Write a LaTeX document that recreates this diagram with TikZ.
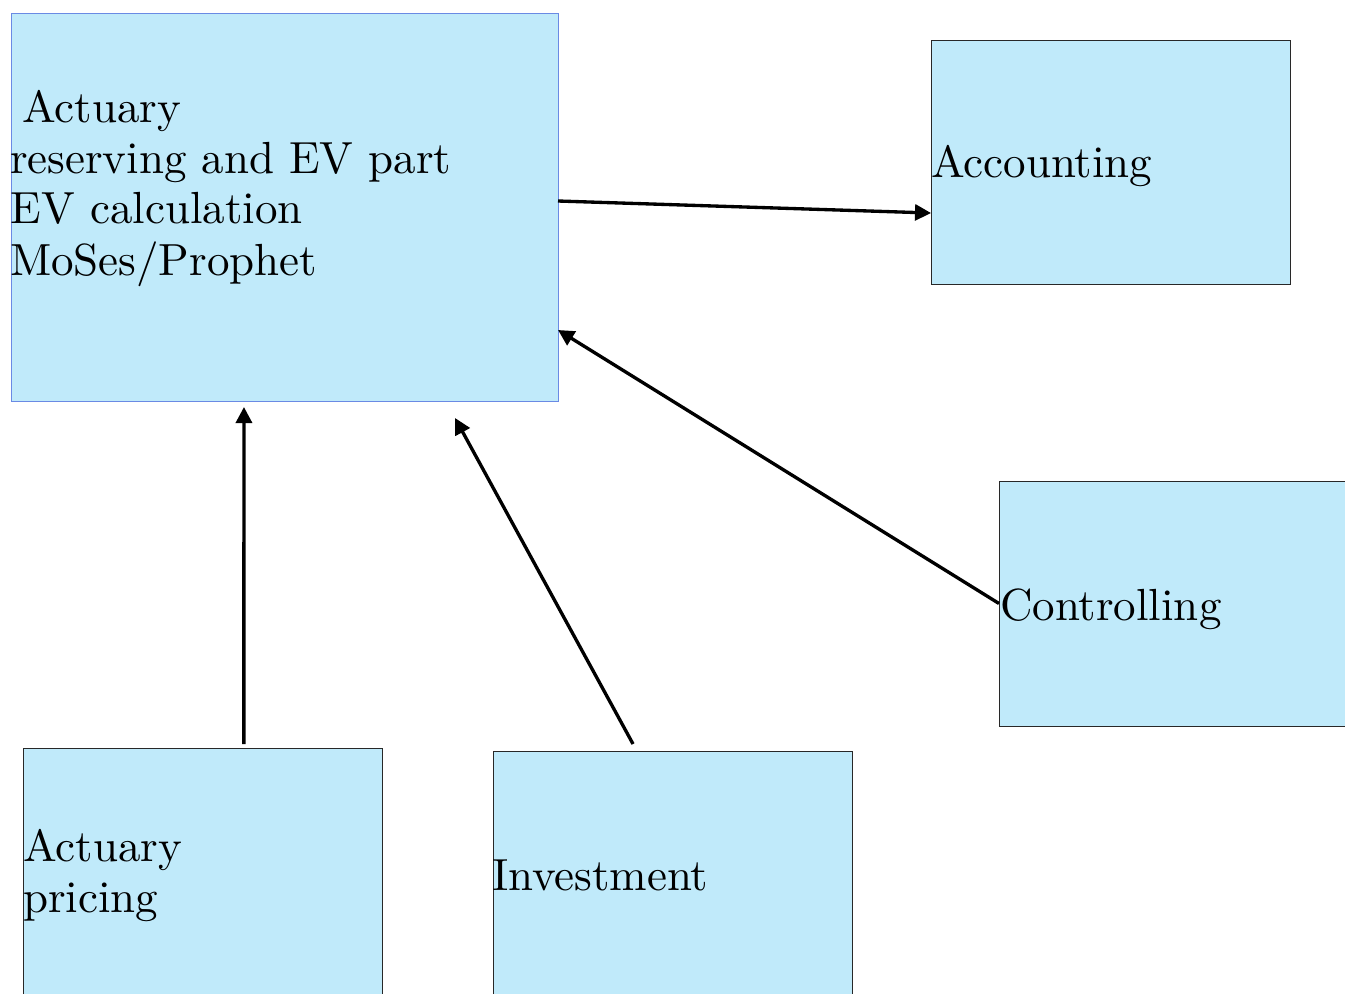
\documentclass[tikz,border=0pt]{standalone}
\usepackage{fontspec}
\setmainfont{lmroman10-regular.otf}
\usetikzlibrary{arrows.meta}
\definecolor{boxfill}{RGB}{192,234,250}
\definecolor{mainedge}{RGB}{106,138,228}
\definecolor{boxedge}{RGB}{40,40,40}
\begin{document}
\begin{tikzpicture}[x=0.75pt,y=-0.75pt,
  box/.style={draw=boxedge,line width=0.75pt,fill=boxfill,inner sep=0pt,outer sep=0pt,anchor=north west},
  lbl/.style={anchor=base west,inner sep=0pt,outer sep=0pt,font=\fontsize{33.75pt}{38.25pt}\selectfont},
  arr/.style={line width=2.5pt,-{Triangle[length=12pt,width=12pt]}}]
\useasboundingbox (0,0) rectangle (1345,993);
\clip (0,0) rectangle (1345,993);

% boxes
\node[box,draw=mainedge,minimum width=410.25pt,minimum height=291pt] (main) at (11,13) {};
\node[box,minimum width=269.25pt,minimum height=183pt] (acct) at (931,40) {};
\node[box,minimum width=300pt,minimum height=183.75pt] (ctrl) at (999,481) {};
\node[box,minimum width=269.25pt,minimum height=240pt] (pricing) at (23,748) {};
\node[box,minimum width=269.25pt,minimum height=240pt] (invest) at (493,751) {};

% labels
\node[lbl] (m1) at (22,122) {Actuary};
\node[lbl] (m2) at (10,173) {reserving and EV part};
\node[lbl] (m3) at (11,223) {EV calculation};
\node[lbl] (m4) at (10,275) {MoSes/Prophet};
\node[lbl] (t1) at (931,177) {Accounting};
\node[lbl] (t2) at (1000,620) {Controlling};
\node[lbl] (t3) at (23,861) {Actuary};
\node[lbl] (t4) at (23,912) {pricing};
\node[lbl] (t5) at (492,890) {Investment};

% connectors
\draw[arr] ([yshift=4.5pt]main.east) -- ([yshift=-38.25pt]acct.west);
\draw[arr] (ctrl.west) -- ([yshift=-92.25pt]main.east);
\draw[arr] ([xshift=31pt,yshift=3pt]pricing.north) -- ([xshift=-30.4pt,yshift=-4.5pt]main.south);
\draw[arr] ([xshift=-29.6pt,yshift=5.25pt]invest.north) -- ([xshift=127.9pt,yshift=-12.75pt]main.south);
\end{tikzpicture}
\end{document}
